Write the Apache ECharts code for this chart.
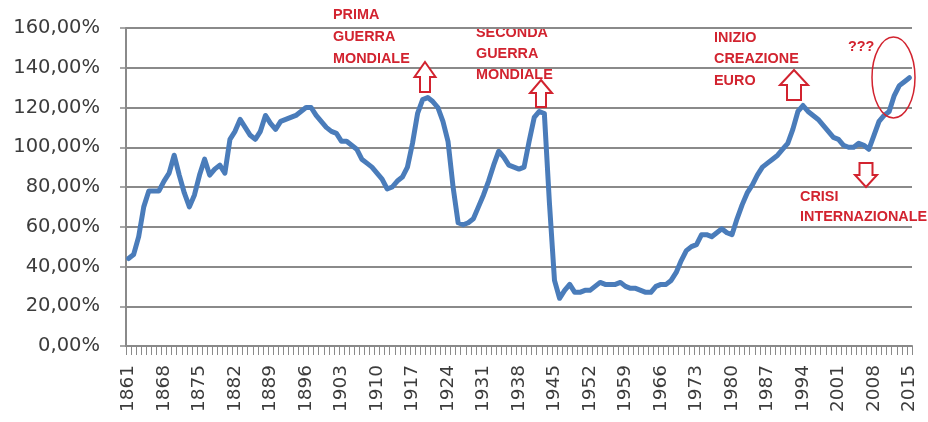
<!DOCTYPE html>
<html>
<head>
<meta charset="utf-8">
<script src="https://cdn.jsdelivr.net/npm/echarts@6/dist/echarts.min.js"></script>
<style>
  html, body { margin: 0; padding: 0; background: #fff; }
  #chart { width: 928px; height: 422px; }
</style>
</head>
<body>
<div id="chart"></div>
<script>
// debt / GDP ratio, one value per year 1861..2015 (percent)
const firstYear = 1861;
const lastYear = 2015;
const debtRatio = [
  44, 46, 55, 70, 78, 78, 78, 83, 87, 96,          // 1861-1870
  86, 77, 70, 76, 86, 94, 86, 89, 91, 87,          // 1871-1880
  104, 108, 114, 110, 106, 104, 108, 116, 112, 109, // 1881-1890
  113, 114, 115, 116, 118, 120, 120, 116, 113, 110, // 1891-1900
  108, 107, 103, 103, 101, 99, 94, 92, 90, 87,     // 1901-1910
  84, 79, 80, 83, 85, 90, 102, 117, 124, 125,      // 1911-1920
  123, 120, 113, 103, 80, 62, 61, 62, 64, 70,      // 1921-1930
  76, 83, 91, 98, 95, 91, 90, 89, 90, 103,         // 1931-1940
  115, 118, 117, 72, 33, 24, 28, 31, 27, 27,       // 1941-1950
  28, 28, 30, 32, 31, 31, 31, 32, 30, 29,          // 1951-1960
  29, 28, 27, 27, 30, 31, 31, 33, 37, 43,          // 1961-1970
  48, 50, 51, 56, 56, 55, 57, 59, 57, 56,          // 1971-1980
  64, 71, 77, 81, 86, 90, 92, 94, 96, 99,          // 1981-1990
  102, 109, 118, 121, 118, 116, 114, 111, 108, 105, // 1991-2000
  104, 101, 100, 100, 102, 101, 99, 106, 113, 116, // 2001-2010
  118, 126, 131, 133, 135                          // 2011-2015
];
const years = [];
for (let y = firstYear; y <= lastYear; y++) years.push(String(y));

const yTicks = [0, 20, 40, 60, 80, 100, 120, 140, 160];

// annotation texts
const notePrima = ['PRIMA', 'GUERRA', 'MONDIALE'];
const noteSeconda = ['SECONDA', 'GUERRA', 'MONDIALE'];
const noteEuro = ['INIZIO', 'CREAZIONE', 'EURO'];
const noteCrisi = ['CRISI', 'INTERNAZIONALE'];
const noteQuestion = '???';

const RED = '#d2232f';
const GRID = '#8a8a8a';
const TEXT = '#3c3c3c';
const NOTE_FONT = 'bold 14.4px "Liberation Sans", Arial, sans-serif';

const chart = echarts.init(document.getElementById('chart'));

function textBlock(lines, x, y0, step) {
  return lines.map((t, i) => ({
    type: 'text',
    x: x,
    y: y0 + i * step,
    style: {
      text: t,
      fill: RED,
      font: NOTE_FONT,
      verticalAlign: 'middle'
    }
  }));
}

function upArrow(tipX, tipY, headW, shaftW, headH, totalH) {
  const hw = headW / 2, sw = shaftW / 2;
  return {
    type: 'polygon',
    shape: {
      points: [
        [tipX, tipY], [tipX + hw, tipY + headH], [tipX + sw, tipY + headH],
        [tipX + sw, tipY + totalH], [tipX - sw, tipY + totalH],
        [tipX - sw, tipY + headH], [tipX - hw, tipY + headH]
      ]
    },
    style: { fill: '#fff', stroke: RED, lineWidth: 2 },
    z: 10
  };
}

function downArrow(tipX, tipY, headW, shaftW, headH, totalH) {
  const hw = headW / 2, sw = shaftW / 2;
  return {
    type: 'polygon',
    shape: {
      points: [
        [tipX, tipY], [tipX + hw, tipY - headH], [tipX + sw, tipY - headH],
        [tipX + sw, tipY - totalH], [tipX - sw, tipY - totalH],
        [tipX - sw, tipY - headH], [tipX - hw, tipY - headH]
      ]
    },
    style: { fill: '#fff', stroke: RED, lineWidth: 2 },
    z: 10
  };
}

const option = {
  backgroundColor: '#fff',
  animation: false,
  grid: { left: 126, right: 16, top: 28, bottom: 76 },
  xAxis: {
    type: 'category',
    data: years,
    boundaryGap: true,
    axisLine: { lineStyle: { color: GRID, width: 2 } },
    axisTick: { show: true, interval: 0, length: 9, lineStyle: { color: GRID, width: 1 } },
    axisLabel: {
      interval: 6,
      rotate: 90,
      hideOverlap: false,
      margin: 19,
      color: TEXT,
      fontFamily: 'DejaVu Sans',
      fontSize: 18.5
    },
    splitLine: { show: false }
  },
  yAxis: {
    type: 'value',
    min: yTicks[0],
    max: yTicks[yTicks.length - 1],
    interval: 20,
    axisLine: { show: true, lineStyle: { color: GRID, width: 2 } },
    axisTick: { show: true, length: 6, lineStyle: { color: GRID, width: 1.5 } },
    axisLabel: {
      margin: 26,
      color: TEXT,
      fontFamily: 'DejaVu Sans',
      fontSize: 19.5,
      formatter: v => v.toFixed(2).replace('.', ',') + '%'
    },
    splitLine: { lineStyle: { color: GRID, width: 2 } }
  },
  series: [{
    type: 'line',
    data: debtRatio,
    symbol: 'none',
    lineStyle: { color: '#4a7cba', width: 5, join: 'round', cap: 'round' },
    z: 5
  }],
  graphic: [
    ...textBlock(notePrima, 333, 15, 22),
    ...textBlock(noteSeconda, 476, 33, 21),
    ...textBlock(noteEuro, 714, 38, 21.5),
    ...textBlock(noteCrisi, 800, 197, 20),
    {
      type: 'text', x: 848, y: 47,
      style: { text: noteQuestion, fill: RED, font: NOTE_FONT, verticalAlign: 'middle' }
    },
    upArrow(425, 62, 21, 10, 15, 30),
    upArrow(541, 80, 22, 10, 13, 27),
    upArrow(794, 70, 28, 14, 15, 30),
    downArrow(866, 187, 22, 13, 12, 24),
    {
      type: 'ellipse',
      shape: { cx: 893.5, cy: 77.5, rx: 21.5, ry: 40.5 },
      style: { fill: 'none', stroke: RED, lineWidth: 1.5 },
      z: 10
    }
  ]
};

chart.setOption(option);
</script>
</body>
</html>
